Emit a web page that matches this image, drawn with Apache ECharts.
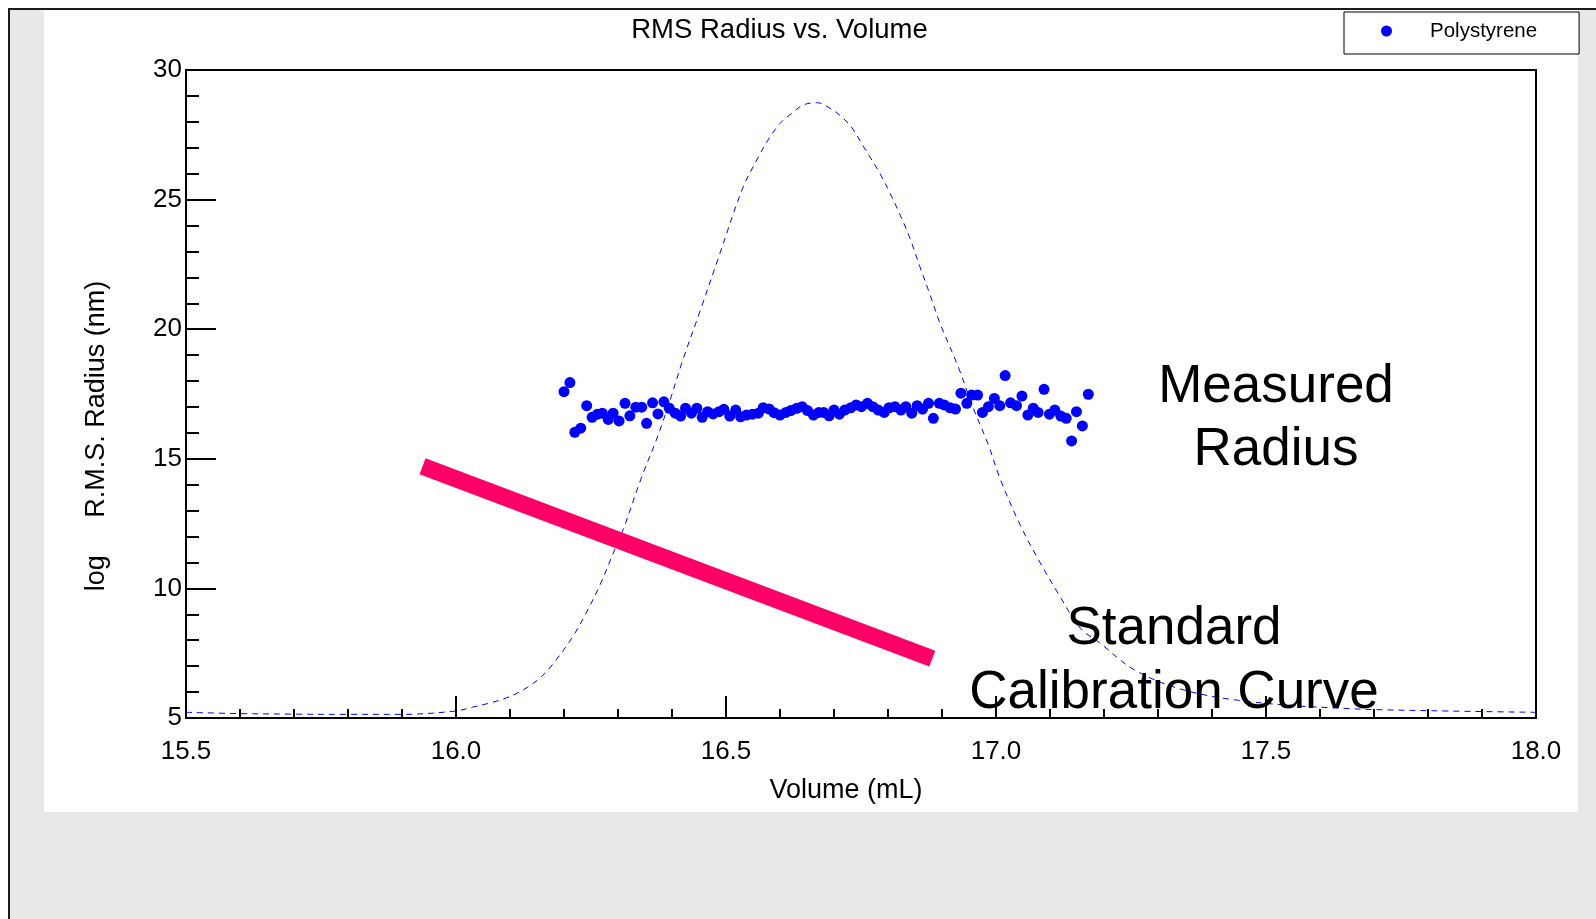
<!DOCTYPE html>
<html>
<head>
<meta charset="utf-8">
<script src="https://cdn.jsdelivr.net/npm/echarts@6/dist/echarts.min.js"></script>
<style>
  html, body { margin: 0; padding: 0; background: #fff; overflow: hidden; width: 1596px; height: 919px; }
  #frame { position: absolute; left: 8px; top: 8px; width: 1600px; height: 1000px; background: #e8e8e8; border-top: 2px solid #1a1a1a; border-left: 2px solid #1a1a1a; }
  #panel { position: absolute; left: 44px; top: 10px; width: 1534px; height: 802px; background: #fff; }
  #chart { position: absolute; left: 0; top: 0; width: 1596px; height: 919px; }
</style>
</head>
<body>
<div id="frame"></div>
<div id="panel"></div>
<div id="chart"></div>
<script>
// ---- data ----
const volume = [
  16.200,16.211,16.220,16.231,16.242,16.252,16.262,16.271,16.282,16.291,
  16.302,16.313,16.322,16.333,16.344,16.353,16.364,16.374,16.385,16.395,
  16.406,16.416,16.425,16.436,16.446,16.456,16.466,16.476,16.487,16.496,
  16.507,16.518,16.527,16.538,16.549,16.560,16.569,16.580,16.589,16.600,
  16.611,16.620,16.631,16.641,16.651,16.662,16.672,16.681,16.691,16.700,
  16.710,16.720,16.731,16.741,16.751,16.762,16.772,16.782,16.793,16.802,
  16.813,16.824,16.833,16.844,16.854,16.864,16.875,16.884,16.895,16.904,
  16.915,16.925,16.935,16.946,16.955,16.966,16.975,16.986,16.997,17.007,
  17.017,17.027,17.038,17.048,17.059,17.069,17.078,17.089,17.099,17.109,
  17.120,17.130,17.140,17.149,17.160,17.171
];
const radius = [
  17.59,17.94,16.02,16.18,17.05,16.60,16.72,16.76,16.52,16.76,
  16.46,17.14,16.66,16.99,16.99,16.37,17.16,16.73,17.20,16.95,
  16.76,16.65,16.95,16.76,16.95,16.60,16.82,16.73,16.82,16.91,
  16.65,16.88,16.62,16.69,16.72,16.76,16.97,16.92,16.78,16.69,
  16.79,16.86,16.95,17.01,16.86,16.69,16.79,16.79,16.66,16.88,
  16.72,16.88,16.97,17.08,17.01,17.14,17.01,16.88,16.79,16.97,
  17.01,16.88,17.01,16.76,17.05,16.92,17.14,16.56,17.14,17.08,
  16.97,16.92,17.53,17.14,17.46,17.46,16.79,17.01,17.33,17.05,
  18.21,17.16,17.05,17.42,16.69,16.95,16.79,17.68,16.72,16.88,
  16.65,16.56,15.69,16.82,16.27,17.49
];
const curveVolume = [
  15.500,15.600,15.700,15.800,15.900,16.000,16.031,16.063,16.094,16.124,
  16.156,16.180,16.215,16.241,16.267,16.292,16.311,16.343,16.371,16.393,
  16.420,16.452,16.489,16.531,16.557,16.578,16.600,16.622,16.643,16.668,
  16.693,16.717,16.736,16.751,16.770,16.785,16.804,16.822,16.841,16.859,
  16.878,16.896,16.930,16.957,16.986,17.007,17.044,17.081,17.119,17.156,
  17.192,17.257,17.348,17.470,17.644,17.809,18.000
];
const curveSignal = [
  5.22,5.17,5.15,5.14,5.14,5.27,5.42,5.58,5.78,6.08,
  6.55,7.10,8.10,9.05,10.15,11.40,12.35,14.25,15.73,17.04,
  18.81,20.70,22.94,25.45,26.53,27.30,27.94,28.33,28.65,28.74,
  28.52,28.14,27.69,27.17,26.53,26.01,25.24,24.43,23.49,22.41,
  21.32,20.24,18.55,17.00,15.53,14.26,12.48,11.02,9.67,8.47,
  7.90,6.85,6.08,5.63,5.37,5.28,5.22
];
const calibVolume = [15.938, 16.882];
const calibRadius = [14.71, 7.29];
const seriesName = 'Polystyrene';
const titleText = 'RMS Radius vs. Volume';
const xName = 'Volume (mL)';
const yName = 'log     R.M.S. Radius (nm)';
const noteMeasured = 'Measured\nRadius';
const noteCalib = 'Standard\nCalibration Curve';

// ---- chart ----
const FONT = "'Liberation Sans', Arial, sans-serif";
const zip = (a, b) => a.map((v, i) => [v, b[i]]);

const chart = echarts.init(document.getElementById('chart'), null, { renderer: 'canvas' });
chart.setOption({
  animation: false,
  backgroundColor: 'transparent',
  textStyle: { fontFamily: FONT },
  grid: {
    left: 186, top: 70, width: 1350, height: 648,
    show: true, borderColor: '#000', borderWidth: 2, backgroundColor: 'transparent',
    containLabel: false
  },
  legend: {
    data: [seriesName],
    left: 1344, top: 12,
    padding: [8, 42, 12, 37],
    itemWidth: 77, itemHeight: 11, itemGap: 0,
    icon: 'circle',
    borderColor: '#000', borderWidth: 1, backgroundColor: '#fff',
    itemStyle: { opacity: 1 },
    textStyle: { fontSize: 20.5, color: '#000', fontFamily: FONT, lineHeight: 22 }
  },
  xAxis: {
    type: 'value', min: 15.5, max: 18.0, interval: 0.5,
    name: xName, nameLocation: 'middle', nameGap: 59,
    nameTextStyle: { fontSize: 27, color: '#000', fontFamily: FONT, padding: [0, 30, 0, 0] },
    axisLine: { show: true, lineStyle: { color: '#000', width: 2 } },
    axisTick: { show: true, inside: true, length: 22, lineStyle: { color: '#000', width: 2 } },
    minorTick: { show: true, splitNumber: 5, length: 9, lineStyle: { color: '#000', width: 2 } },
    splitLine: { show: false },
    axisLabel: { fontSize: 26, color: '#000', margin: 21, fontFamily: FONT,
                 formatter: v => v.toFixed(1) }
  },
  yAxis: {
    type: 'value', min: 5, max: 30, interval: 5,
    axisLine: { show: true, lineStyle: { color: '#000', width: 2 } },
    axisTick: { show: true, inside: true, length: 30, lineStyle: { color: '#000', width: 2 } },
    minorTick: { show: true, splitNumber: 5, length: 13, lineStyle: { color: '#000', width: 2 } },
    splitLine: { show: false },
    axisLabel: { fontSize: 26, color: '#000', margin: 4, fontFamily: FONT }
  },
  graphic: [
    { type: 'text', x: 779.5, y: 30, z: 100,
      style: { text: titleText, font: "27.5px " + FONT, fill: '#000', align: 'center', verticalAlign: 'middle' } },
    { type: 'text', x: 97, y: 436, rotation: Math.PI / 2, z: 100,
      style: { text: yName, font: "27px " + FONT, fill: '#000', align: 'center', verticalAlign: 'middle' } },
    { type: 'text', x: 1276, y: 419, z: 100,
      style: { text: noteMeasured, font: "53px " + FONT, lineHeight: 63, fill: '#000', align: 'center', verticalAlign: 'middle' } },
    { type: 'text', x: 1174, y: 661, z: 100,
      style: { text: noteCalib, font: "53px " + FONT, lineHeight: 64, fill: '#000', align: 'center', verticalAlign: 'middle' } }
  ],
  series: [
    {
      name: 'Concentration', type: 'line', data: zip(curveVolume, curveSignal),
      showSymbol: false, smooth: 0.35, z: 1,
      lineStyle: { color: '#0000ff', width: 1, type: [6, 5] }
    },
    {
      name: 'Calibration', type: 'line', data: zip(calibVolume, calibRadius),
      showSymbol: false, z: 2,
      lineStyle: { color: '#ff0066', width: 17, cap: 'butt' }
    },
    {
      name: seriesName, type: 'scatter', data: zip(volume, radius),
      symbol: 'circle', symbolSize: 11, z: 3,
      itemStyle: { color: '#0000ff', opacity: 1 }
    }
  ]
});
</script>
</body>
</html>
